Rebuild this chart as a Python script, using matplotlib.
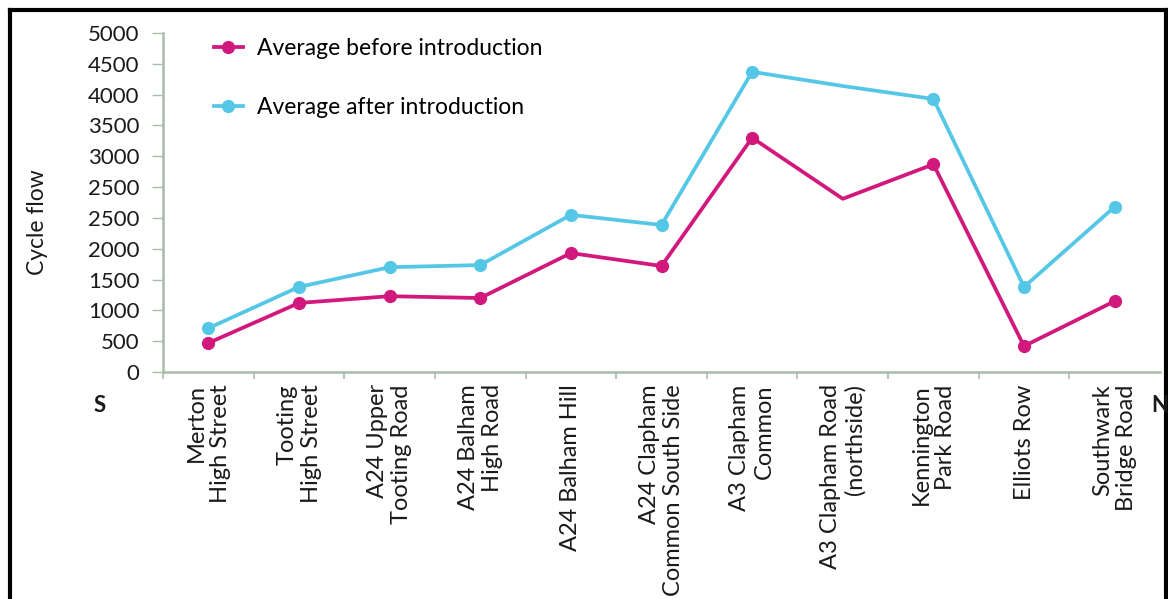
import matplotlib
matplotlib.use("Agg")
import matplotlib.pyplot as plt
from matplotlib.lines import Line2D

plt.rcParams['font.family'] = ['Lato', 'DejaVu Sans']

categories = ["Merton\nHigh Street", "Tooting\nHigh Street", "A24 Upper\nTooting Road",
              "A24 Balham\nHigh Road", "A24 Balham Hill", "A24 Clapham\nCommon South Side",
              "A3 Clapham\nCommon", "A3 Clapham Road\n(northside)", "Kennington\nPark Road",
              "Elliots Row", "Southwark\nBridge Road"]

# values in axis units (each gridline step = 500 units)
before = [470, 1120, 1230, 1200, 1930, 1720, 3800, 2810, 3370, 420, 1150]
after = [710, 1380, 1700, 1735, 2550, 2385, 4870, 4640, 4430, 1380, 2680]

ytick_pos = [0, 500, 1000, 1500, 2000, 2500, 3000, 3500, 4000, 4500, 5000, 5500]
ytick_labels = ["0", "500", "1000", "1500", "2000", "2500", "2500", "3000", "3500",
                "4000", "4500", "5000"]

marker_idx = [0, 1, 2, 3, 4, 5, 6, 8, 9, 10]

pink = '#d2177d'
cyan = '#55c7e6'
spine_col = '#a9bcaa'
txt = '#1a1a1a'

fig = plt.figure(figsize=(11.68, 5.99), dpi=100)
ax = fig.add_axes([163/1168, 1-372/599, (1160-163)/1168, (372-33)/599])

x = list(range(len(categories)))
ax.plot(x, after, color=cyan, lw=2.7, marker='o', ms=8.5, markevery=marker_idx,
        solid_joinstyle='round')
ax.plot(x, before, color=pink, lw=2.7, marker='o', ms=8.5, markevery=marker_idx,
        solid_joinstyle='round')

ax.set_xlim(-0.5, 10.5)
ax.set_ylim(0, 5500)
ax.set_yticks(ytick_pos)
ax.set_yticklabels(ytick_labels, fontsize=16, color=txt)
ax.tick_params(axis='y', length=8, color=spine_col, width=1, pad=9)

ax.set_xticks([i - 0.5 for i in range(11)])
ax.set_xticklabels([])
ax.tick_params(axis='x', length=5, color=spine_col, width=1.2)
for i, lab in enumerate(categories):
    ax.text(i, -200, lab, rotation=90, ha='center', va='top', multialignment='right',
            fontsize=17, color=txt, linespacing=1.2)

for s in ['top', 'right']:
    ax.spines[s].set_visible(False)
for s in ['left', 'bottom']:
    ax.spines[s].set_color(spine_col)
    ax.spines[s].set_linewidth(1.8)

fig.text(38/1168, 1-222/599, 'Cycle flow', rotation=90, fontsize=16.5, color=txt,
         ha='center', va='center')

handles = [Line2D([], [], color=pink, lw=2.7, marker='o', ms=8.5),
           Line2D([], [], color=cyan, lw=2.7, marker='o', ms=8.5)]
ax.legend(handles, ['Average before introduction', 'Average after introduction'],
          loc='upper left', bbox_to_anchor=(0.03, 1.045), frameon=False,
          fontsize=16.5, handlelength=1.3, handletextpad=0.6, labelspacing=1.65)

fig.text(100/1168, 1-405/599, 'S', fontsize=16, fontweight='bold', ha='center', va='center', color=txt)
fig.text(1160/1168, 1-405/599, 'N', fontsize=16, fontweight='bold', ha='center', va='center', color=txt)

# image frame
fig.add_artist(Line2D([9.5/1168, 9.5/1168], [0, 1-9.5/599], transform=fig.transFigure, color='black', lw=3))
fig.add_artist(Line2D([9.5/1168, 1166/1168], [1-9.5/599, 1-9.5/599], transform=fig.transFigure, color='black', lw=3))
fig.add_artist(Line2D([1166/1168, 1166/1168], [0, 1-9.5/599], transform=fig.transFigure, color='black', lw=3))

fig.savefig('out.png', dpi=100, facecolor='white')
